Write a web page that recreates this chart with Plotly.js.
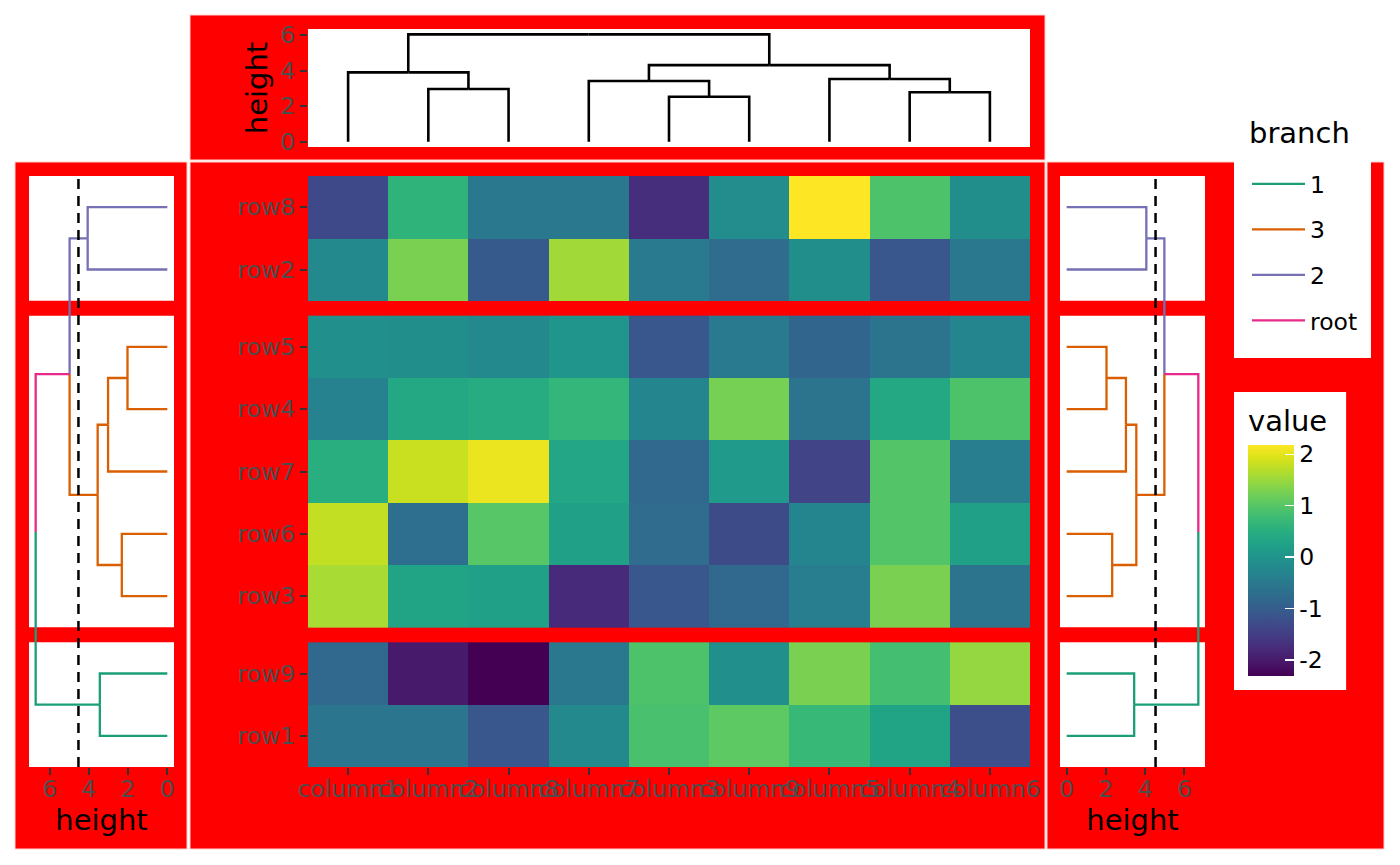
<!DOCTYPE html>
<html><head><meta charset="utf-8">
<script src="https://cdn.plot.ly/plotly-3.0.1.min.js"></script>
<style>html,body{margin:0;padding:0;background:#fff}#chart{width:1400px;height:865px}</style>
</head><body><div id="chart"></div>
<script>
// ---------------- data ----------------
const rowLabels = ['row8','row2','row5','row4','row7','row6','row3','row9','row1']; // top to bottom
const colLabels = ['column1','column2','column8','column7','column3','column9','column5','column4','column6'];
const rowGroups = [2, 5, 2];                       // rows per slice, top to bottom
const rowBranch = ['2','2','3','3','3','3','3','1','1'];
const branchNames = ['1','3','2','root'];
const branchColors = ['#1B9E77','#D95F02','#7570B3','#E7298A'];
const cutHeight = 4.53;
const heightTicks = [0, 2, 4, 6];
const valueTicks = [-2, -1, 0, 1, 2];

// row dendrogram merges: [a, b, height]; internal nodes named 'm' + index
const rowMerges = [
  ['row8','row2',4.06],
  ['row5','row4',2.03],
  ['m1','row7',3.02],
  ['row6','row3',2.32],
  ['m2','m3',3.55],
  ['m0','m4',4.98],
  ['row9','row1',3.44],
  ['m5','m6',6.71]
];
// column dendrogram merges; internal nodes named 'c' + index
const colMerges = [
  ['column2','column8',2.96],
  ['column1','c0',3.90],
  ['column3','column9',2.53],
  ['column7','c2',3.41],
  ['column4','column6',2.78],
  ['column5','c4',3.53],
  ['c3','c5',4.31],
  ['c1','c6',6.04]
];

// heatmap values (columns in colLabels order)
const row8 = [-1.32, 0.61, -0.51, -0.51, -1.73, -0.15, 2.18, 0.92, -0.11];
const row2 = [-0.20, 1.28, -1.05, 1.55, -0.47, -0.74, -0.11, -1.10, -0.51];
const row5 = [-0.07, -0.11, -0.20, 0.02, -1.10, -0.47, -0.87, -0.60, -0.29];
const row4 = [-0.33, 0.38, 0.47, 0.65, -0.29, 1.24, -0.60, 0.38, 0.92];
const row7 = [0.52, 1.82, 2.05, 0.34, -0.78, 0.11, -1.41, 0.97, -0.42];
const row6 = [1.78, -0.69, 1.01, 0.25, -0.74, -1.28, -0.29, 0.97, 0.25];
const row3 = [1.60, 0.29, 0.25, -1.77, -1.10, -0.78, -0.42, 1.28, -0.60];
const row9 = [-0.78, -2.00, -2.31, -0.51, 0.92, -0.07, 1.28, 0.83, 1.46];
const row1 = [-0.56, -0.56, -1.10, -0.20, 0.88, 1.06, 0.70, 0.29, -1.23];
const zRows = [row8, row2, row5, row4, row7, row6, row3, row9, row1];

// ---------------- layout helpers ----------------
const W = 1400, H = 865;
const px = v => v / W, py = v => 1 - v / H;
const gap = 0.2407;               // slice gap in row units
const FONT = 'DejaVu Sans';
const TICKCOL = '#4D4D4D';
const TICKSIZE = 23.5, TITLESIZE = 29;

const rowSlice = [];
rowGroups.forEach((n, g) => { for (let k = 0; k < n; k++) rowSlice.push(g); });
const posOfIdx = idx => {
  const i = Math.min(Math.max(Math.floor(idx), 1), rowLabels.length);
  return idx + gap * rowSlice[i - 1];
};
const rowPos = rowLabels.map((_, i) => posOfIdx(i + 1));
const colPos = colLabels.map((_, i) => i + 1);
const yRange = [rowLabels.length + 0.5 + gap * (rowGroups.length - 1), 0.5];

function buildTree(leaves, merges, prefix) {
  const nodes = {};
  leaves.forEach((l, i) => nodes[l] = { h: 0, idx: i + 1, leaves: [l] });
  merges.forEach((m, k) => {
    const a = nodes[m[0]], b = nodes[m[1]];
    const n = { h: m[2], idx: (a.idx + b.idx) / 2, leaves: a.leaves.concat(b.leaves) };
    a.parent = n; b.parent = n;
    nodes[prefix + k] = n;
  });
  return Object.values(nodes);
}

// ---------------- row dendrogram traces ----------------
const rowNodes = buildTree(rowLabels, rowMerges, 'm');
const branchOf = n => {
  const s = new Set(n.leaves.map(l => rowBranch[rowLabels.indexOf(l)]));
  return s.size === 1 ? [...s][0] : 'root';
};
const segs = {};
branchNames.forEach(b => segs[b] = { h: [], p: [] });
rowNodes.forEach(n => {
  if (!n.parent) return;
  const s = segs[branchOf(n)];
  const y0 = posOfIdx(n.idx), y1 = posOfIdx(n.parent.idx);
  s.h.push(n.h, n.parent.h, n.parent.h, null);
  s.p.push(y0, y0, y1, null);
});

const traces = [];
['x2', 'x3'].forEach((xa, side) => {
  branchNames.forEach((b, bi) => {
    traces.push({
      type: 'scatter', mode: 'lines', x: segs[b].h, y: segs[b].p,
      xaxis: xa, yaxis: 'y', name: b, legendgroup: 'g' + b,
      showlegend: side === 0,
      line: { color: branchColors[bi], width: 2.3 },
      hoverinfo: 'skip'
    });
  });
});

// ---------------- column dendrogram ----------------
const colNodes = buildTree(colLabels, colMerges, 'c');
const cx = [], cy = [];
colNodes.forEach(n => {
  if (!n.parent) return;
  cx.push(n.idx, n.idx, n.parent.idx, null);
  cy.push(n.h, n.parent.h, n.parent.h, null);
});
traces.push({
  type: 'scatter', mode: 'lines', x: cx, y: cy, xaxis: 'x', yaxis: 'y4',
  showlegend: false, line: { color: 'black', width: 2.6 }, hoverinfo: 'skip'
});

// ---------------- heatmap ----------------
const allVals = zRows.flat();
const zmin = Math.min(...allVals), zmax = Math.max(...allVals);
let start = 0;
rowGroups.forEach((n, g) => {
  traces.push({
    type: 'heatmap', x: colPos, y: rowPos.slice(start, start + n), z: zRows.slice(start, start + n),
    xaxis: 'x', yaxis: 'y', colorscale: 'Viridis', zmin: zmin, zmax: zmax,
    showscale: g === 0, showlegend: false, hoverinfo: 'skip',
    colorbar: {
      title: { text: 'value', side: 'top', font: { family: FONT, size: TITLESIZE, color: 'black' } },
      thickness: 46, thicknessmode: 'pixels', len: 298, lenmode: 'pixels',
      x: px(1234), xanchor: 'left', y: py(690), yanchor: 'bottom',
      xpad: 14, ypad: 14, bgcolor: 'white', outlinewidth: 0, borderwidth: 0,
      tickvals: valueTicks, ticktext: valueTicks.map(String),
      ticks: 'inside', ticklen: 9, tickwidth: 1.5, tickcolor: 'white',
      tickfont: { family: FONT, size: TICKSIZE, color: 'black' }
    }
  });
  start += n;
});

// ---------------- shapes ----------------
const shapes = [];
[[190, 15, 1045, 160], [15, 162, 187, 849], [190, 162, 1045, 849], [1047, 162, 1384, 849]].forEach(r => {
  shapes.push({ type: 'rect', xref: 'paper', yref: 'paper', x0: px(r[0]), x1: px(r[2]), y0: py(r[3]), y1: py(r[1]),
    fillcolor: '#FF0000', line: { color: '#FFD0D0', width: 1 }, layer: 'below' });
});
start = 0;
rowGroups.forEach(n => {
  const y0 = rowPos[start] - 0.5, y1 = rowPos[start + n - 1] + 0.5;
  ['x2 domain', 'x3 domain'].forEach(xr => shapes.push({ type: 'rect', xref: xr, yref: 'y', x0: 0, x1: 1, y0: y0, y1: y1,
    fillcolor: 'white', line: { width: 0 }, layer: 'below' }));
  start += n;
});
shapes.push({ type: 'rect', xref: 'x domain', yref: 'y4 domain', x0: 0, x1: 1, y0: 0, y1: 1,
  fillcolor: 'white', line: { width: 0 }, layer: 'below' });
['x2', 'x3'].forEach(xr => shapes.push({ type: 'line', xref: xr, yref: 'y domain', x0: cutHeight, x1: cutHeight, y0: 0, y1: 1,
  line: { color: 'black', width: 2.5, dash: '10px,7px' } }));
// legend key box
shapes.push({ type: 'rect', xref: 'paper', yref: 'paper', x0: px(1234), x1: px(1371), y0: py(358), y1: py(105),
  fillcolor: 'white', line: { width: 0 }, layer: 'above' });

// ---------------- axes ----------------
const tickAxis = {
  showgrid: false, zeroline: false, showline: false, ticks: 'outside', ticklen: 7, tickwidth: 2,
  tickcolor: '#333333', tickfont: { family: FONT, size: TICKSIZE, color: TICKCOL }, tickangle: 0
};
const yDom = [py(767), py(176)];
const heightRange = [-0.34, 7.05];
const titleFont = { family: FONT, size: TITLESIZE, color: 'black' };

const layout = {
  width: W, height: H, margin: { l: 0, r: 0, t: 0, b: 0 },
  paper_bgcolor: 'white', plot_bgcolor: 'rgba(0,0,0,0)',
  font: { family: FONT, color: 'black' },
  showlegend: true,
  legend: {
    x: px(1247), xanchor: 'left', y: py(162), yanchor: 'top', bgcolor: 'rgba(0,0,0,0)',
    font: { family: FONT, size: TICKSIZE, color: 'black' }, tracegroupgap: 12, itemwidth: 53, itemclick: false
  },
  annotations: [{ xref: 'paper', yref: 'paper', x: px(1247), y: py(133), xanchor: 'left', yanchor: 'middle',
    text: 'branch', showarrow: false, font: titleFont }],
  xaxis: Object.assign({}, tickAxis, { domain: [px(308), px(1030)], range: [0.5, 9.5], anchor: 'y',
    tickvals: colPos, ticktext: colLabels, ticklabelstandoff: -6 }),
  yaxis: Object.assign({}, tickAxis, { domain: yDom, range: yRange, anchor: 'x',
    tickvals: rowPos, ticktext: rowLabels }),
  xaxis2: Object.assign({}, tickAxis, { domain: [px(29), px(174)], range: heightRange.slice().reverse(), anchor: 'y',
    tickvals: heightTicks, ticklabelstandoff: -6, title: { text: 'height', font: titleFont, standoff: 4 } }),
  xaxis3: Object.assign({}, tickAxis, { domain: [px(1060), px(1205)], range: heightRange, anchor: 'y',
    tickvals: heightTicks, ticklabelstandoff: -6, title: { text: 'height', font: titleFont, standoff: 4 } }),
  yaxis4: Object.assign({}, tickAxis, { domain: [py(147), py(29)], range: [-0.30, 6.34], anchor: 'x',
    tickvals: heightTicks, title: { text: 'height', font: titleFont, standoff: 4 } }),
  shapes: shapes
};

Plotly.newPlot('chart', traces, layout, { displayModeBar: false, staticPlot: true });
</script>
</body></html>
